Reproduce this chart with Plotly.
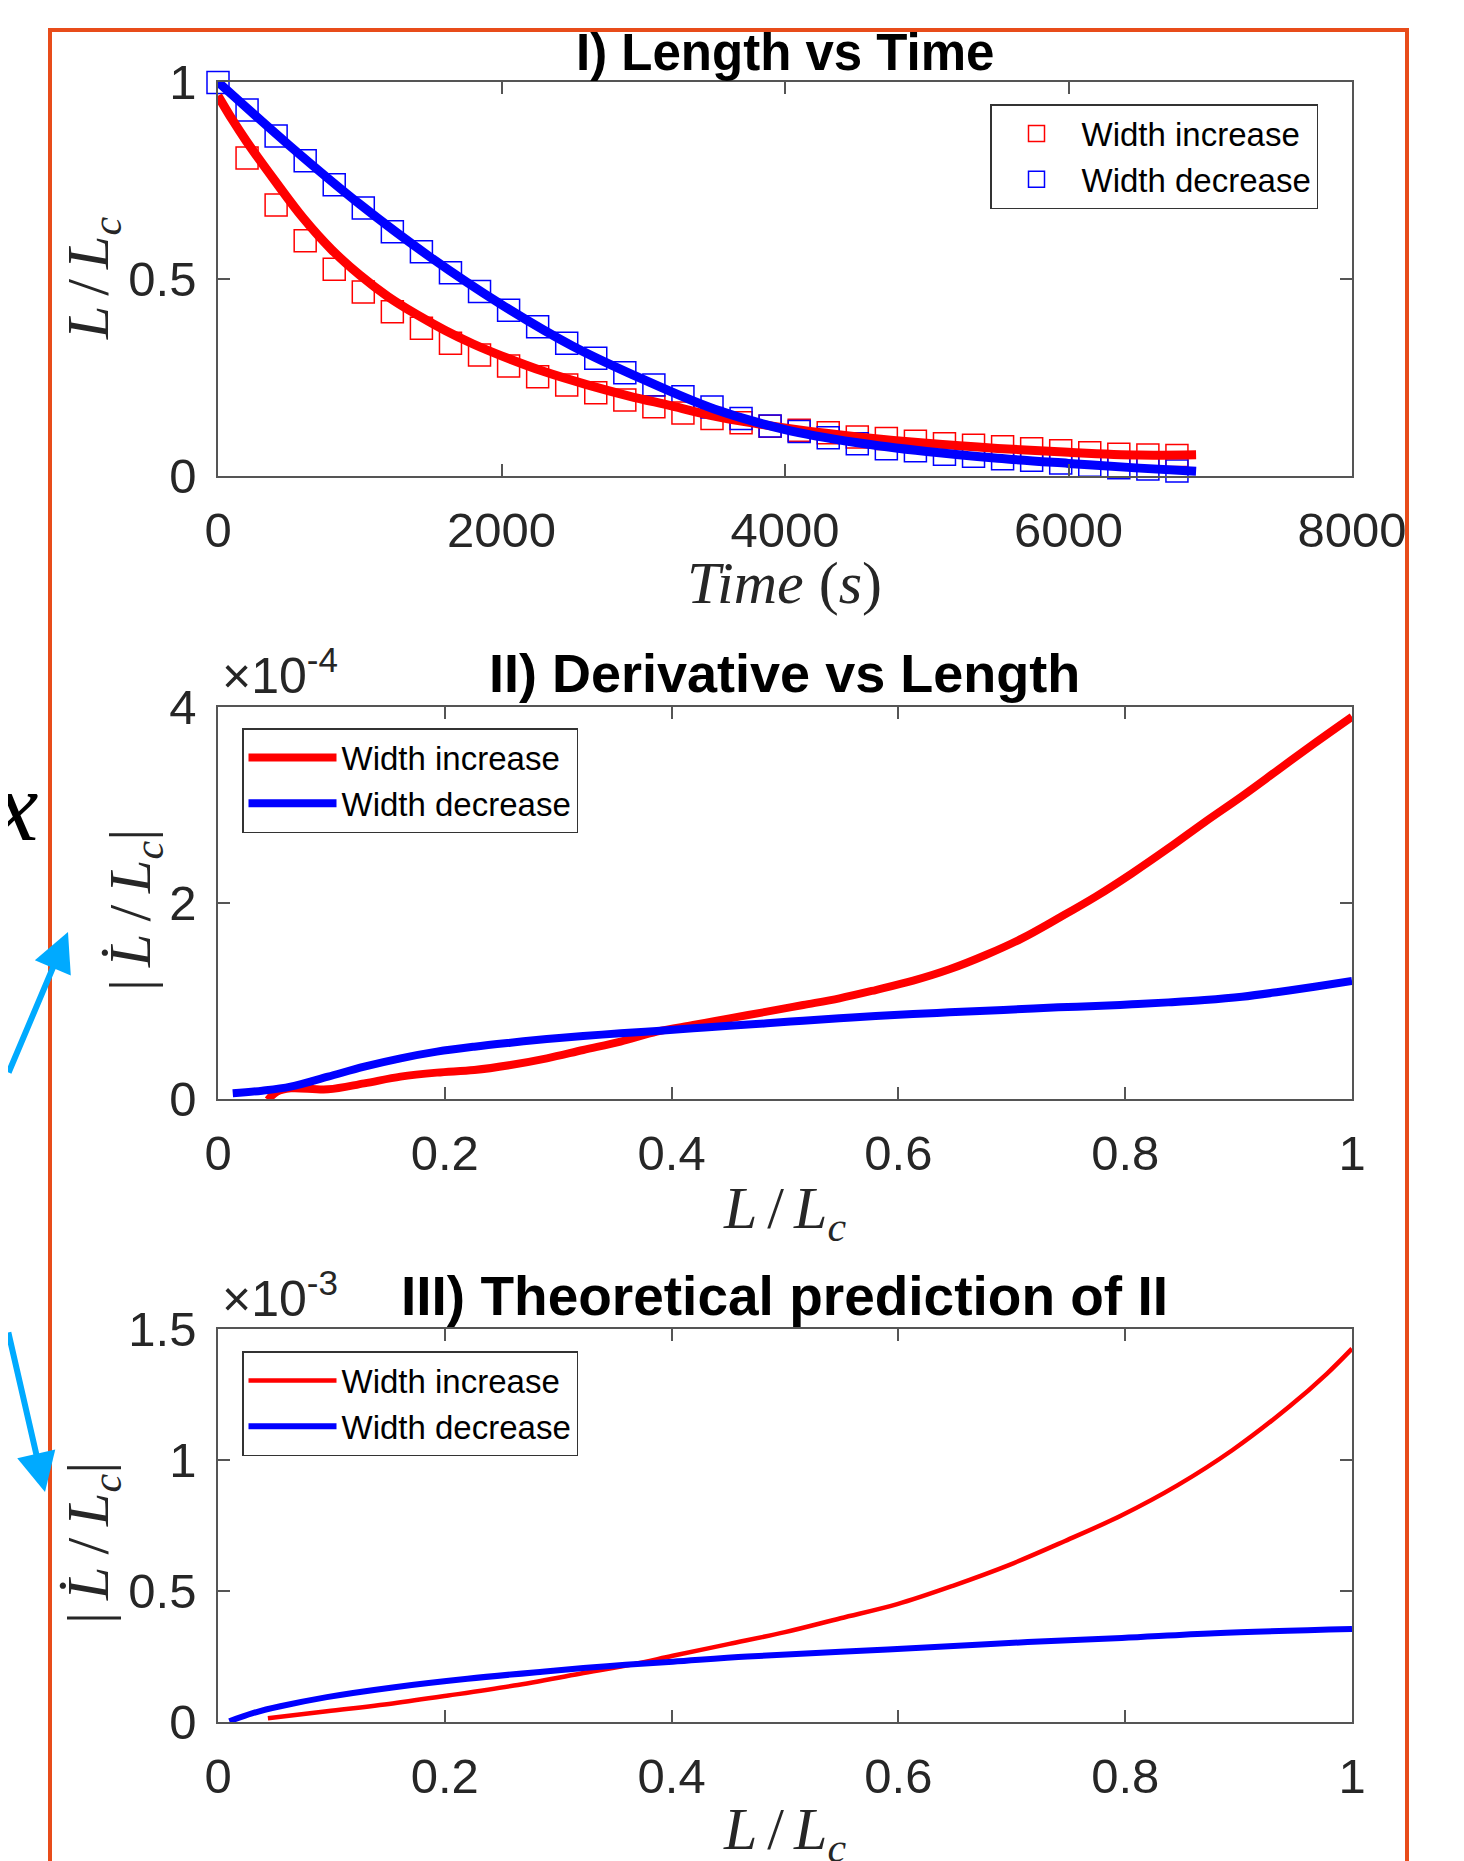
import plotly.graph_objects as go

# ---------------- data ----------------
# Panel I: Length vs Time (squares = measurements, lines = fits)
t_dec = [0, 205, 410, 615, 820, 1025, 1230, 1435, 1640, 1845, 2050, 2255, 2460, 2665, 2870,
         3075, 3280, 3485, 3690, 3895, 4100, 4305, 4510, 4715, 4920, 5125, 5330, 5535, 5740,
         5945, 6150, 6355, 6560, 6765]
L_dec = [0.999, 0.929, 0.863, 0.800, 0.739, 0.680, 0.620, 0.569, 0.516, 0.468, 0.421, 0.379,
         0.337, 0.299, 0.262, 0.231, 0.201, 0.175, 0.146, 0.127, 0.113, 0.097, 0.082, 0.069,
         0.064, 0.055, 0.050, 0.044, 0.040, 0.033, 0.027, 0.021, 0.018, 0.013]
t_inc = [205, 410, 615, 820, 1025, 1230, 1435, 1640, 1845, 2050, 2255, 2460, 2665, 2870,
         3075, 3280, 3485, 3690, 3895, 4100, 4305, 4510, 4715, 4920, 5125, 5330, 5535, 5740,
         5945, 6150, 6355, 6560, 6765]
L_inc = [0.807, 0.688, 0.597, 0.525, 0.467, 0.417, 0.375, 0.337, 0.307, 0.279, 0.252, 0.231,
         0.211, 0.193, 0.176, 0.160, 0.146, 0.135, 0.126, 0.116, 0.110, 0.099, 0.095, 0.088,
         0.082, 0.078, 0.074, 0.069, 0.064, 0.059, 0.055, 0.053, 0.052]
t_fit_inc = [0, 100, 200, 400, 600, 800, 1000, 1200, 1400, 1600, 1800, 2000, 2300, 2600, 2900,
             3200, 3500, 3800, 4100, 4500, 5000, 5500, 6000, 6500, 6900]
L_fit_inc = [0.965, 0.905, 0.85, 0.75, 0.655, 0.575, 0.51, 0.455, 0.41, 0.37, 0.335, 0.305,
             0.265, 0.232, 0.203, 0.178, 0.152, 0.133, 0.117, 0.10, 0.083, 0.07, 0.06, 0.053, 0.054]
t_fit_dec = [0, 500, 1000, 1500, 2000, 2500, 3000, 3500, 4000, 4500, 5000, 5500, 6000, 6500, 6900]
L_fit_dec = [1.0, 0.84, 0.69, 0.555, 0.435, 0.33, 0.245, 0.17, 0.118, 0.085, 0.062, 0.045,
             0.032, 0.02, 0.012]

# Panel II: Derivative vs Length
x2_inc = [0.044, 0.052, 0.064, 0.097, 0.129, 0.161, 0.193, 0.226, 0.258, 0.290, 0.322, 0.355,
          0.387, 0.419, 0.451, 0.484, 0.516, 0.548, 0.580, 0.613, 0.645, 0.677, 0.709, 0.741,
          0.774, 0.806, 0.838, 0.870, 0.903, 0.935, 0.967, 1.0]
d2_inc = [-0.1e-5, 0.75e-5, 1.09e-5, 0.99e-5, 1.6e-5, 2.28e-5, 2.69e-5, 2.96e-5, 3.47e-5,
          4.15e-5, 5.0e-5, 5.85e-5, 6.87e-5, 7.55e-5, 8.23e-5, 8.91e-5, 9.59e-5, 10.27e-5,
          11.12e-5, 12.07e-5, 13.23e-5, 14.69e-5, 16.39e-5, 18.44e-5, 20.65e-5, 23.03e-5,
          25.58e-5, 28.25e-5, 30.9e-5, 33.6e-5, 36.3e-5, 39.0e-5]
x2_dec = [0.013, 0.039, 0.064, 0.097, 0.129, 0.161, 0.193, 0.226, 0.258, 0.290, 0.322, 0.355,
          0.387, 0.419, 0.451, 0.484, 0.516, 0.548, 0.580, 0.613, 0.645, 0.677, 0.709, 0.741,
          0.774, 0.806, 0.838, 0.870, 0.903, 0.935, 0.967, 1.0]
d2_dec = [0.58e-5, 0.85e-5, 1.26e-5, 2.28e-5, 3.3e-5, 4.15e-5, 4.83e-5, 5.34e-5, 5.75e-5,
          6.12e-5, 6.43e-5, 6.7e-5, 6.94e-5, 7.21e-5, 7.48e-5, 7.72e-5, 7.99e-5, 8.23e-5,
          8.47e-5, 8.67e-5, 8.84e-5, 9.01e-5, 9.18e-5, 9.35e-5, 9.49e-5, 9.66e-5, 9.86e-5,
          10.1e-5, 10.44e-5, 10.92e-5, 11.46e-5, 12.04e-5]

# Panel III: Theoretical prediction
x3_inc = [0.044, 0.096, 0.154, 0.203, 0.261, 0.319, 0.368, 0.401, 0.451, 0.5, 0.549, 0.599,
          0.648, 0.698, 0.747, 0.797, 0.846, 0.895, 0.945, 0.978, 1.0]
d3_inc = [0.014e-3, 0.041e-3, 0.071e-3, 0.101e-3, 0.139e-3, 0.184e-3, 0.222e-3, 0.253e-3,
          0.298e-3, 0.343e-3, 0.396e-3, 0.450e-3, 0.520e-3, 0.600e-3, 0.691e-3, 0.789e-3,
          0.903e-3, 1.039e-3, 1.205e-3, 1.33e-3, 1.425e-3]
x3_dec = [0.01, 0.03, 0.055, 0.096, 0.154, 0.22, 0.286, 0.343, 0.401, 0.467, 0.549, 0.632,
          0.714, 0.797, 0.879, 1.0]
d3_dec = [0.003e-3, 0.033e-3, 0.060e-3, 0.095e-3, 0.132e-3, 0.165e-3, 0.192e-3, 0.213e-3,
          0.230e-3, 0.250e-3, 0.268e-3, 0.286e-3, 0.305e-3, 0.321e-3, 0.339e-3, 0.355e-3]

series_names = ["Width increase", "Width decrease"]
x1_ticks = [0, 2000, 4000, 6000, 8000]
y1_ticks = [0, 0.5, 1]
y1_text = ["0", "0.5", "1"]
xL_ticks = [0, 0.2, 0.4, 0.6, 0.8, 1]
xL_text = ["0", "0.2", "0.4", "0.6", "0.8", "1"]
y2_ticks = [0, 2e-4, 4e-4]
y2_text = ["0", "2", "4"]
y3_ticks = [0, 0.5e-3, 1e-3, 1.5e-3]
y3_text = ["0", "0.5", "1", "1.5"]

# ---------------- layout helpers ----------------
W, H = 1464, 1861
OFF = 8  # page body margin offset
def px(x):
    return (x - OFF) / W
def py(y):
    return 1 - (y - OFF) / H

RED = "rgb(255,0,0)"
BLUE = "rgb(0,0,255)"
AX = "#555555"
TXT = "#262626"
SANS = "Liberation Sans, Arial, sans-serif"
SERIF = "Liberation Serif, Times New Roman, serif"

fig = go.Figure()

# Panel I
fig.add_trace(go.Scatter(x=t_inc, y=L_inc, mode="markers", name=series_names[0],
                         marker=dict(symbol="square-open", size=22, color=RED, line=dict(width=1.5)),
                         xaxis="x", yaxis="y", legend="legend", cliponaxis=False))
fig.add_trace(go.Scatter(x=t_dec, y=L_dec, mode="markers", name=series_names[1],
                         marker=dict(symbol="square-open", size=22, color=BLUE, line=dict(width=1.5)),
                         xaxis="x", yaxis="y", legend="legend", cliponaxis=False))
fig.add_trace(go.Scatter(x=t_fit_inc, y=L_fit_inc, mode="lines", line=dict(color=RED, width=9, shape="spline"),
                         showlegend=False, xaxis="x", yaxis="y", cliponaxis=False))
fig.add_trace(go.Scatter(x=t_fit_dec, y=L_fit_dec, mode="lines", line=dict(color=BLUE, width=9, shape="spline"),
                         showlegend=False, xaxis="x", yaxis="y", cliponaxis=False))

# Panel II
fig.add_trace(go.Scatter(x=x2_inc, y=d2_inc, mode="lines", name=series_names[0],
                         line=dict(color=RED, width=8, shape="spline"),
                         xaxis="x2", yaxis="y2", legend="legend2", cliponaxis=False))
fig.add_trace(go.Scatter(x=x2_dec, y=d2_dec, mode="lines", name=series_names[1],
                         line=dict(color=BLUE, width=8, shape="spline"),
                         xaxis="x2", yaxis="y2", legend="legend2", cliponaxis=False))

# Panel III
fig.add_trace(go.Scatter(x=x3_inc, y=d3_inc, mode="lines", name=series_names[0],
                         line=dict(color=RED, width=4.5, shape="spline"),
                         xaxis="x3", yaxis="y3", legend="legend3", cliponaxis=False))
fig.add_trace(go.Scatter(x=x3_dec, y=d3_dec, mode="lines", name=series_names[1],
                         line=dict(color=BLUE, width=6, shape="spline"),
                         xaxis="x3", yaxis="y3", legend="legend3", cliponaxis=False))

def axis_common(**kw):
    d = dict(showline=True, linecolor=AX, linewidth=1.5, mirror="ticks",
             ticks="inside", ticklen=12, tickwidth=1.5, tickcolor=AX,
             showgrid=False, zeroline=False, automargin=False,
             tickfont=dict(family=SANS, size=49, color=TXT))
    d.update(kw)
    return d

xdom = [px(218), px(1352)]
layout_axes = dict(
    xaxis=axis_common(domain=xdom, range=[0, 8000], tickvals=x1_ticks, anchor="y", ticklabelstandoff=10),
    yaxis=axis_common(domain=[py(476), py(82)], range=[0, 1], tickvals=y1_ticks, ticktext=y1_text,
                      anchor="x", ticklabelstandoff=10),
    xaxis2=axis_common(domain=xdom, range=[0, 1], tickvals=xL_ticks, ticktext=xL_text, anchor="y2",
                       ticklabelstandoff=10),
    yaxis2=axis_common(domain=[py(1099), py(707)], range=[0, 4e-4], tickvals=y2_ticks, ticktext=y2_text,
                       anchor="x2", ticklabelstandoff=10),
    xaxis3=axis_common(domain=xdom, range=[0, 1], tickvals=xL_ticks, ticktext=xL_text, anchor="y3",
                       ticklabelstandoff=10),
    yaxis3=axis_common(domain=[py(1722), py(1329)], range=[0, 1.5e-3], tickvals=y3_ticks, ticktext=y3_text,
                       anchor="x3", ticklabelstandoff=10),
)

leg_common = dict(bgcolor="white", bordercolor="#333333", borderwidth=1.5,
                  font=dict(family=SANS, size=33, color="black"),
                  xanchor="left", yanchor="top", itemsizing="trace", tracegroupgap=0)

def ann(text, x, y, size, family=SANS, color=TXT, angle=0, xanchor="center", yanchor="middle"):
    return dict(text=text, x=px(x), y=py(y), xref="paper", yref="paper", showarrow=False,
                font=dict(family=family, size=size, color=color), textangle=angle,
                xanchor=xanchor, yanchor=yanchor)

L_lab = "<i>L</i>\u2006/\u2006<i>L<sub>c</sub></i>"
Ld_lab = "|\u2009<i>L\u0307</i>\u2009/\u2009<i>L<sub>c</sub></i>|"

annotations = [
    ann("<b>I) Length vs Time</b>", 785, 53, 51, color="black"),
    ann("<b>II) Derivative vs Length</b>", 785, 673, 54, color="black"),
    ann("<b>III) Theoretical prediction of II</b>", 785, 1296, 55, color="black"),
    ann("<i>Time</i> (<i>s</i>)", 785, 583, 60, family=SERIF),
    ann(L_lab, 785, 1212, 60, family=SERIF),
    ann(L_lab, 785, 1833, 60, family=SERIF),
    ann(L_lab, 92, 279, 60, family=SERIF, angle=-90),
    ann(Ld_lab, 134, 910, 60, family=SERIF, angle=-90),
    ann(Ld_lab, 92, 1543, 60, family=SERIF, angle=-90),
    ann("\u00d710<sup>-4</sup>", 220, 672, 50, xanchor="left"),
    ann("\u00d710<sup>-3</sup>", 220, 1295, 50, xanchor="left"),
    ann("<i>x</i>", 40, 806, 100, family=SERIF, color="black", xanchor="right"),
]

ARROW = "rgb(0,170,255)"
annotations.append(dict(x=px(68), y=py(932), xref="paper", yref="paper", ax=-80, ay=142,
                        showarrow=True, arrowhead=2, arrowsize=1.3, arrowwidth=6, arrowcolor=ARROW, text=""))
annotations.append(dict(x=px(45), y=py(1492), xref="paper", yref="paper", ax=-55, ay=-161,
                        showarrow=True, arrowhead=2, arrowsize=1.3, arrowwidth=6, arrowcolor=ARROW, text=""))

shapes = [dict(type="rect", xref="paper", yref="paper", x0=px(50), x1=px(1407), y0=py(1900), y1=py(30),
               line=dict(color="rgb(232,76,26)", width=4), fillcolor="rgba(0,0,0,0)", layer="below")]

fig.update_layout(
    template="none",
    width=W, height=H, autosize=False,
    margin=dict(l=0, r=0, t=0, b=0, pad=0),
    paper_bgcolor="white", plot_bgcolor="white",
    showlegend=True,
    legend=dict(x=px(990), y=py(104), itemwidth=80, **leg_common),
    legend2=dict(x=px(242), y=py(728), itemwidth=88, **leg_common),
    legend3=dict(x=px(242), y=py(1351), itemwidth=88, **leg_common),
    annotations=annotations,
    shapes=shapes,
    **layout_axes,
)

fig.write_html("out.html", config={"responsive": False})
